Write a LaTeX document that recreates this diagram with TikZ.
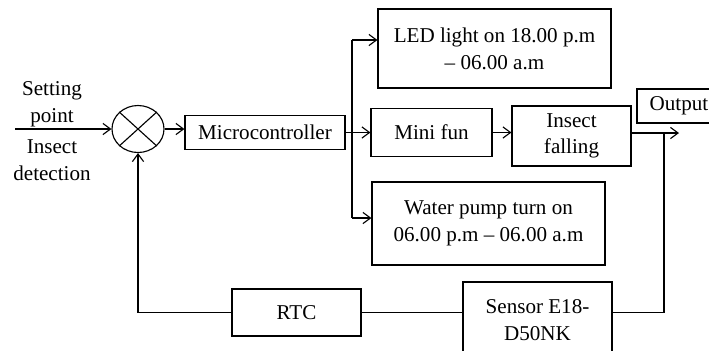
\documentclass[tikz,border=0pt]{standalone}
\usepackage{fontspec}
\setmainfont{Liberation Serif}
\usetikzlibrary{arrows.meta, positioning, shapes.geometric}

\begin{document}
\begin{tikzpicture}[
  x=0.25mm, y=-0.25mm,
  every node/.style={font=\fontsize{15}{19}\selectfont},
  block/.style={draw, line width=0.8pt, align=center, inner sep=0pt},
  summer/.style={draw, ellipse, line width=0.8pt, minimum width=13mm, minimum height=11.75mm, inner sep=0pt},
  arrow/.style={-{Straight Barb[length=1.9mm, width=2.8mm, line width=0.8pt]}, line width=0.8pt},
  line/.style={line width=0.8pt},
]
\useasboundingbox (0,0) rectangle (709,350);

% Summing point
\node[summer] (sum) at (138,129) {};
\draw[line] (sum.north west) -- (sum.south east);
\draw[line] (sum.north east) -- (sum.south west);

% Input
\coordinate (in) at (15,129);
\draw[arrow] (in) -- (sum.west);
\node[align=center] (setpt) at (52,104) {Setting\\point};
\node[align=center] (detect) at (52,160) {Insect\\detection};

% Microcontroller
\node[block, minimum width=40mm, minimum height=8.5mm] (micro) at (265,132.5) {Microcontroller};
\draw[arrow] (sum.east) -- (sum.east -| micro.west);

% Actuators
\node[block, minimum width=58.25mm, minimum height=19.75mm] (led) at (494.5,48.5) {LED light on 18.00 p.m\\-- 06.00 a.m};
\node[block, minimum width=30.25mm, minimum height=12mm] (minifun) at (431.5,132.5) {Mini fun};
\node[block, minimum width=58.25mm, minimum height=20.75mm] (pump) at (488.5,223.5) {Water pump turn on\\06.00 p.m -- 06.00 a.m};
\node[block, minimum width=29.75mm, minimum height=15mm] (insect) at (571.5,136) {Insect\\falling};
\node[block, minimum width=21mm, minimum height=8.5mm] (output) at (679,106) {Output};

% Branch
\coordinate (brtop) at (352,40);
\coordinate (brbot) at (352,218);
\draw[arrow] (micro.east) -- (minifun.west);
\draw[line] (brtop) -- (brbot);
\draw[arrow] (brtop) -- (brtop -| led.west);
\draw[arrow] (brbot) -- (brbot -| pump.west);
\draw[arrow] (minifun.east) -- (minifun.east -| insect.west);

% Output
\coordinate (outtip) at (679,133);
\coordinate (tap) at (664,133);
\draw[arrow] (insect.east |- outtip) -- (outtip);

% Feedback
\node[block, minimum width=32.25mm, minimum height=11.75mm] (rtc) at (296.5,312.5) {RTC};
\node[block, minimum width=37.25mm, minimum height=19mm] (sensor) at (537.5,320) {Sensor E18-\\D50NK};
\coordinate (fbr) at (664,312.5);
\coordinate (fbl) at (138,312.5);
\draw[line] (tap) -- (fbr) -- (fbr -| sensor.east);
\draw[line] (fbr -| sensor.west) -- (rtc.east);
\draw[arrow] (rtc.west) -- (fbl) -- (sum.south);

\end{tikzpicture}
\end{document}
